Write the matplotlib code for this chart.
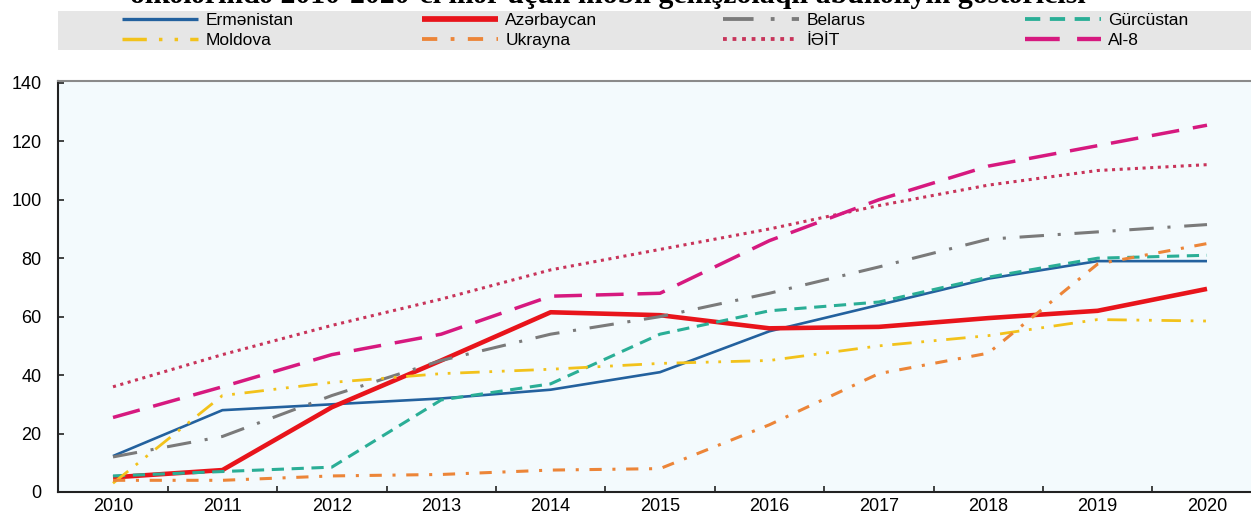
import matplotlib
matplotlib.use("Agg")
import matplotlib.pyplot as plt
from matplotlib.patches import Rectangle

plt.rcParams['font.family'] = ['Liberation Sans', 'DejaVu Sans']

years = ["2010", "2011", "2012", "2013", "2014", "2015", "2016", "2017", "2018", "2019", "2020"]

armenia = [12.3, 28, 30, 32, 35, 41, 55, 64, 73, 79, 79]
azerbaijan = [5, 7.5, 29, 45, 61.5, 60.5, 56, 56.5, 59.5, 62, 69.5]
belarus = [12, 19, 33, 45, 54, 60, 68, 77, 86.5, 89, 91.5]
georgia = [5.5, 7, 8.5, 31.5, 37, 54, 62, 65, 73.5, 80, 81]
moldova = [3, 33, 37.5, 40.5, 42, 44, 45, 50, 53.5, 59, 58.5]
ukraine = [4, 4, 5.5, 6, 7.5, 8, 23, 40.5, 47.5, 78, 85]
oecd = [36, 47, 57, 66, 76, 83, 90, 98, 105, 110, 112]
al8 = [25.5, 36, 47, 54, 67, 68, 86, 100, 111.5, 118.5, 125.5]

W, H = 1251, 515
fig = plt.figure(figsize=(W / 100, H / 100), dpi=100)

# title, cut off at the top of the picture
fig.text(130 / W, 1 - 3 / H, "ölkələrində 2010-2020-ci illər üçün mobil genişzolaqlı abunəliyin göstəricisi",
         family=['Liberation Serif', 'DejaVu Serif'], fontweight='bold', fontsize=21.5,
         ha='left', va='baseline', color='black')

# grey legend band
fig.patches.append(Rectangle((58 / W, 1 - 50 / H), 1 - 58 / W, 39 / H,
                             transform=fig.transFigure, facecolor='#e6e6e6', edgecolor='none', zorder=1))

ax = fig.add_axes([58.3 / W, 23 / H, 1203.4 / W, 411.5 / H])
ax.set_facecolor('#f3fafd')

x = list(range(len(years)))
series = [
    ("Ermənistan", armenia, dict(color='#23619e', lw=1.9, ls='-')),
    ("Azərbaycan", azerbaijan, dict(color='#e8141b', lw=3.3, ls='-')),
    ("Belarus", belarus, dict(color='#7a7a7a', lw=2.2, ls=(0, (8, 4.5, 1, 4.5)))),
    ("Gürcüstan", georgia, dict(color='#2aae96', lw=2.2, ls=(0, (4, 2.5)))),
    ("Moldova", moldova, dict(color='#f2c21b', lw=2.0, ls=(0, (7, 3.5, 1, 3.5, 1, 3.5)))),
    ("Ukrayna", ukraine, dict(color='#ec8538', lw=2.2, ls=(0, (4, 3.5, 1, 3.5)))),
    ("İƏİT", oecd, dict(color='#c8345a', lw=2.2, ls=(0, (1, 1.5)))),
    ("Al-8", al8, dict(color='#d6197f', lw=2.5, ls=(0, (8, 4)))),
]
handles = {}
for name, vals, st in series:
    line, = ax.plot(x, vals, label=name, solid_capstyle='butt', dash_capstyle='butt', **st)
    handles[name] = line

ax.set_xlim(-0.5, 10.5)
ax.set_ylim(0, 140.8)
ax.set_yticks(range(0, 141, 20))
ax.set_xticks(x)
ax.set_xticklabels(years)
ax.set_xticks([i + 0.5 for i in x[:-1]], minor=True)
ax.tick_params(axis='x', which='major', length=0, pad=4, labelsize=13)
ax.tick_params(axis='x', which='minor', direction='in', length=4, width=1.2, color='#222222')
ax.tick_params(axis='y', direction='in', length=4, width=1.2, color='#222222', pad=12, labelsize=13)

for side in ['left', 'bottom']:
    ax.spines[side].set_color('#222222')
    ax.spines[side].set_linewidth(1.5)
ax.spines['top'].set_color('#8a8a8a')
ax.spines['top'].set_linewidth(1.5)
ax.spines['right'].set_visible(False)

# legend: four columns of two entries
columns = [["Ermənistan", "Moldova"], ["Azərbaycan", "Ukrayna"],
           ["Belarus", "İƏİT"], ["Gürcüstan", "Al-8"]]
col_x = [122, 422, 723, 1025]
for cx, names in zip(col_x, columns):
    leg = fig.legend([handles[n] for n in names], names, loc='upper left',
                     bbox_to_anchor=(cx / W, 1 - 12.5 / H), frameon=False, fontsize=12.5,
                     handlelength=4.4, handletextpad=0.4, labelspacing=0.3,
                     borderpad=0, borderaxespad=0)
    for ln in leg.get_lines():
        ln.set_linewidth(ln.get_linewidth() * 1.25)

fig.savefig("out.png", dpi=100)
